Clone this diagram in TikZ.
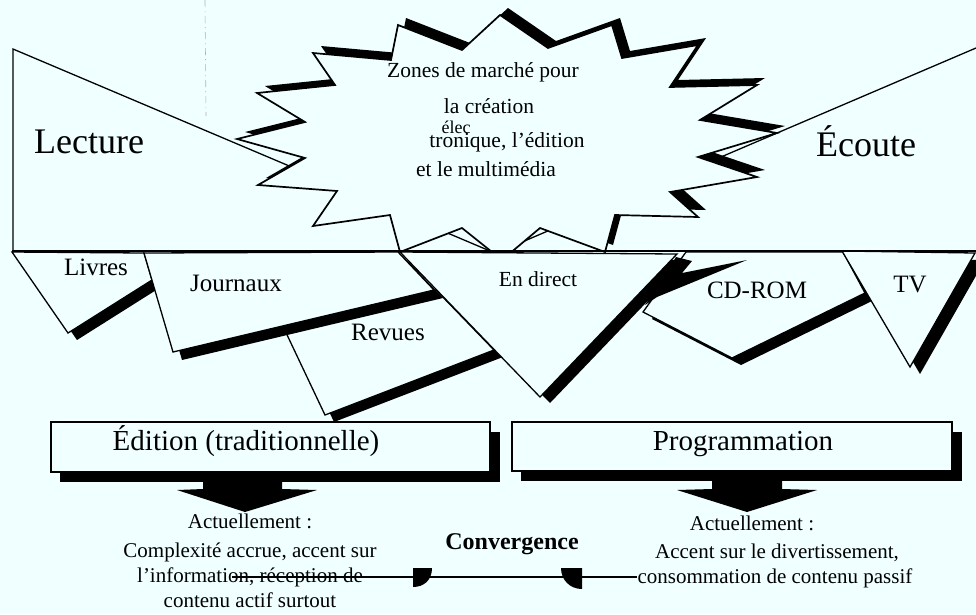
\documentclass[tikz,border=0pt]{standalone}
\usepackage{fontspec}
\setmainfont{Liberation Serif}
\definecolor{bg}{RGB}{240,255,255}
\begin{document}
\begin{tikzpicture}[x=1pt,y=-1pt,
  piece/.style={draw=black, line width=1.3pt, line join=miter, fill=bg},
  big/.style={anchor=base, inner sep=0pt, font=\fontsize{36}{40}\selectfont},
  burst/.style={anchor=base, inner sep=0pt, font=\fontsize{21.5}{24}\selectfont},
  lbl/.style={anchor=base, inner sep=0pt, font=\fontsize{25}{28}\selectfont},
  boxlbl/.style={anchor=base, inner sep=0pt, font=\fontsize{29}{32}\selectfont},
  txt/.style={anchor=base, inner sep=0pt, font=\fontsize{21}{24}\selectfont},
  bigarrow/.style={fill=black}]
\useasboundingbox (0,0) rectangle (976,614);
\fill[bg] (0,0) rectangle (976,614);
% scan artefact
\draw[gray!60, line width=0.6pt, dash pattern=on 7pt off 4pt on 1pt off 4pt] (205,0) -- (206,116);
% top triangles
\path[piece] (13,49) -- (13,251) -- (490,251) -- cycle;
\fill[bg] (976,48) -- (976,251) -- (501,251) -- cycle;
\draw[line width=1.3pt] (976,48) -- (501,251);
% starburst shadow
\fill[black, shift={(8,-7)}] (500,15) -- (548,48) -- (612,25) -- (622,58) -- (698,45) -- (670,87) -- (757,85) -- (700,120) -- (777,133) -- (698,157) -- (757,177) -- (670,192) -- (698,217) -- (615,215) -- (605,252) -- (540,228) -- (502,260) -- (462,228) -- (400,252) -- (390,215) -- (313,226) -- (337,191) -- (258,185) -- (305,158) -- (237,139) -- (305,122) -- (257,93) -- (335,85) -- (313,53) -- (391,60) -- (398,25) -- (462,50) -- cycle;
% starburst
\path[piece, line width=1.7pt] (500,15) -- (548,48) -- (612,25) -- (622,58) -- (698,45) -- (670,87) -- (757,85) -- (700,120) -- (777,133) -- (698,157) -- (757,177) -- (670,192) -- (698,217) -- (615,215) -- (605,252) -- (540,228) -- (502,260) -- (462,228) -- (400,252) -- (390,215) -- (313,226) -- (337,191) -- (258,185) -- (305,158) -- (237,139) -- (305,122) -- (257,93) -- (335,85) -- (313,53) -- (391,60) -- (398,25) -- (462,50) -- cycle;
% hanging shapes
% Revues
\fill[black, shift={(9,7)}] (280,320) -- (436,290) -- (494,350) -- (325,415) -- cycle;
\path[piece] (280,320) -- (436,290) -- (494,350) -- (325,415) -- cycle;
% Livres
\fill[black, shift={(9,7)}] (12,252) -- (144,253) -- (152,280) -- (68,333) -- cycle;
\path[piece] (12,252) -- (144,253) -- (152,280) -- (68,333) -- cycle;
% Journaux
\fill[black, shift={(9,8)}] (144,253) -- (398,252) -- (434,290) -- (173,352) -- cycle;
\path[piece] (144,253) -- (398,252) -- (434,290) -- (173,352) -- cycle;
% CD-ROM
\fill[black, shift={(9,7)}] (686,252) -- (843,252) -- (865,293) -- (732,358) -- (643,312) -- cycle;
\path[piece] (686,252) -- (843,252) -- (865,293) -- (732,358) -- (643,312) -- cycle;
% En direct
\fill[black, shift={(10,6)}] (400,252) -- (677,254) -- (540,397) -- cycle;
\path[piece] (400,252) -- (677,254) -- (540,397) -- cycle;
% flash
\fill[black] (676,257) -- (692,261) -- (682,273) -- (747,260) -- (657,297) -- (645,305) -- (662,280) -- cycle;
% TV
\fill[black, shift={(10,7)}] (842,251) -- (975,253) -- (910,367) -- cycle;
\path[piece] (842,251) -- (975,253) -- (910,367) -- cycle;
% baseline
\draw[line width=1.3pt] (12,251) -- (976,251);
% labels top
\node[big] (lecture) at (89,153) {Lecture};
\node[big] (ecoute) at (866,156) {Écoute};
\node[burst] (z1) at (483,77) {Zones de marché pour};
\node[burst] (z2) at (489,113) {la création};
\node[burst, font=\fontsize{18}{21}\selectfont] (z3a) at (456,133) {élec};
\node[burst] (z3) at (507,147) {tronique, l’édition};
\node[burst] (z4) at (486,176) {et le multimédia};
\node[lbl] (livres) at (96,275) {Livres};
\node[lbl] (journaux) at (236,291) {Journaux};
\node[lbl] (revues) at (388,340) {Revues};
\node[burst] (direct) at (538,286) {En direct};
\node[lbl] (cdrom) at (757,298) {CD-ROM};
\node[lbl] (tv) at (910,292) {TV};
% boxes
\fill[black] (60,432) rectangle (500,482);
\path[piece] (51,422) rectangle (490,472);
\node[boxlbl] (edition) at (246,450) {Édition (traditionnelle)};
\fill[black] (521,432) rectangle (962,481);
\path[piece] (512,422) rectangle (952,471);
\node[boxlbl] (prog) at (743,450) {Programmation};
% big arrows
\fill[bigarrow] (203,478) -- (282,478) -- (282,489) -- (317,490) -- (245,512) -- (177,490) -- (203,489) -- cycle;
\fill[bigarrow] (712,478) -- (782,478) -- (782,489) -- (817,490) -- (747,512) -- (677,490) -- (712,489) -- cycle;
% bottom texts
\node[txt] (l1) at (250,528) {Actuellement :};
\node[txt] (l2) at (250,557) {Complexité accrue, accent sur};
\node[txt] (l3) at (250,582) {l’information, réception de};
\node[txt] (l4) at (250,607) {contenu actif surtout};
\node[txt] (r1) at (752,530) {Actuellement :};
\node[txt] (r2) at (777,558) {Accent sur le divertissement,};
\node[txt] (r3) at (775,583) {consommation de contenu passif};
\node[anchor=base, inner sep=0pt, font=\bfseries\fontsize{24}{28}\selectfont] (conv) at (512,549) {Convergence};
% convergence line and markers
\coordinate (cl) at (232,577);
\coordinate (cr) at (637,577);
\draw[line width=1.2pt] (cl) -- (cr);
\fill[black] (413,568) -- (432,568) .. controls (432,580) and (424,587) .. (413,587) -- cycle;
\fill[black] (582,568) -- (561,568) .. controls (561,580) and (570,589) .. (582,589) -- cycle;
\end{tikzpicture}
\end{document}
